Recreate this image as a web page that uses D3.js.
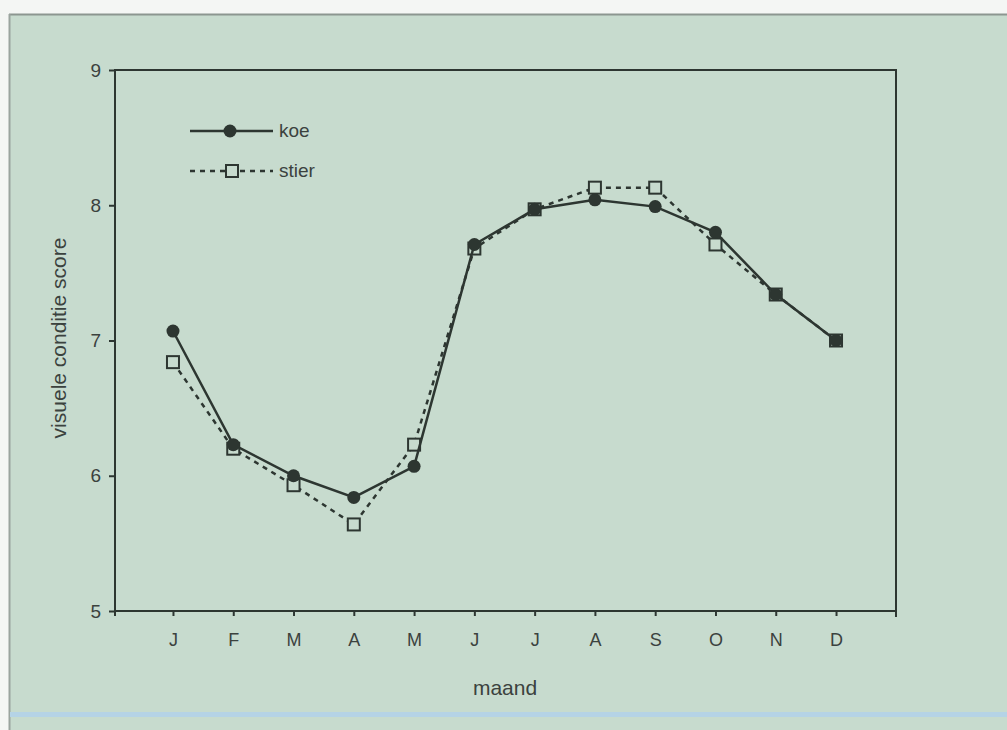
<!DOCTYPE html>
<html>
<head>
<meta charset="utf-8">
<script src="https://cdn.jsdelivr.net/npm/d3@7"></script>
<style>
  html, body { margin: 0; padding: 0; background: #ffffff; }
  svg { display: block; }
  text { font-family: "Liberation Sans", Arial, sans-serif; fill: #3b423e; }
</style>
</head>
<body>
<svg id="chart" width="1007" height="730"></svg>
<script>
// Monthly visual condition scores for cows (koe) and bulls (stier)
const months = ["J", "F", "M", "A", "M", "J", "J", "A", "S", "O", "N", "D"];
const koe   = [7.07, 6.23, 6.00, 5.84, 6.07, 7.71, 7.97, 8.04, 7.99, 7.80, 7.34, 7.00];
const stier = [6.84, 6.20, 5.93, 5.64, 6.23, 7.68, 7.97, 8.13, 8.13, 7.71, 7.34, 7.00];
const yTicks = [5, 6, 7, 8, 9];

const svg = d3.select("#chart");
const ink = "#2d3631";
const paper = "#c7dbce";

// page panel
svg.append("rect").attr("x", 0).attr("y", 0).attr("width", 1007).attr("height", 730).attr("fill", "#f4f6f4");
svg.append("rect").attr("x", 9).attr("y", 14).attr("width", 998).attr("height", 716)
  .attr("fill", paper);
svg.append("line").attr("x1", 9).attr("x2", 1007).attr("y1", 14.5).attr("y2", 14.5)
  .attr("stroke", "#8c9690").attr("stroke-width", 2);
svg.append("line").attr("x1", 9.5).attr("x2", 9.5).attr("y1", 14).attr("y2", 730)
  .attr("stroke", "#9aa49e").attr("stroke-width", 2);
svg.append("rect").attr("x", 10).attr("y", 712).attr("width", 997).attr("height", 5)
  .attr("fill", "#b5d3e6");

const plotL = 115, plotR = 896, plotT = 70, plotB = 611;

const x = d3.scaleLinear().domain([0, 13]).range([112.7, 896.3]);
const y = d3.scaleLinear().domain([5, 9]).range([plotB, plotT]);

// plot frame
svg.append("rect").attr("x", plotL).attr("y", plotT)
  .attr("width", plotR - plotL).attr("height", plotB - plotT)
  .attr("fill", "none").attr("stroke", ink).attr("stroke-width", 2);

// y axis
const yAxis = d3.axisLeft(y).tickValues(yTicks).tickSize(6).tickPadding(8).tickFormat(d3.format("d"));
const gy = svg.append("g").attr("transform", `translate(${plotL},0)`).call(yAxis);
gy.select(".domain").remove();
gy.selectAll(".tick line").attr("stroke", ink).attr("stroke-width", 2);
gy.selectAll(".tick text").attr("font-size", 19).style("fill", "#3b423e");

// x axis
const xAxis = d3.axisBottom(x).tickValues(d3.range(1, 13)).tickSize(5).tickPadding(17)
  .tickFormat(i => months[i - 1]);
const gx = svg.append("g").attr("transform", `translate(0,${plotB})`).call(xAxis);
gx.select(".domain").remove();
gx.selectAll(".tick line").attr("stroke", ink).attr("stroke-width", 2);
gx.selectAll(".tick text").attr("font-size", 18).style("fill", "#3b423e");

// corner ticks of the frame
svg.append("line").attr("x1", plotL).attr("x2", plotL).attr("y1", plotB).attr("y2", plotB + 5)
  .attr("stroke", ink).attr("stroke-width", 2);
svg.append("line").attr("x1", plotR).attr("x2", plotR).attr("y1", plotB).attr("y2", plotB + 6)
  .attr("stroke", ink).attr("stroke-width", 2);

// axis titles
svg.append("text").attr("x", 505).attr("y", 695).attr("text-anchor", "middle")
  .attr("font-size", 21).text("maand");
svg.append("text").attr("transform", "translate(66,338) rotate(-90)")
  .attr("text-anchor", "middle").attr("font-size", 21).text("visuele conditie score");

const line = d3.line().x((d, i) => x(i + 1)).y(d => y(d));

// stier: dashed line with open squares
svg.append("path").datum(stier).attr("d", line)
  .attr("fill", "none").attr("stroke", ink).attr("stroke-width", 2.5)
  .attr("stroke-dasharray", "5,5");
svg.selectAll(".sq").data(stier).enter().append("rect")
  .attr("x", (d, i) => x(i + 1) - 6).attr("y", d => y(d) - 6)
  .attr("width", 12).attr("height", 12)
  .attr("fill", paper).attr("stroke", ink).attr("stroke-width", 2);

// koe: solid line with filled circles
svg.append("path").datum(koe).attr("d", line)
  .attr("fill", "none").attr("stroke", ink).attr("stroke-width", 2.5);
svg.selectAll(".dot").data(koe).enter().append("circle")
  .attr("cx", (d, i) => x(i + 1)).attr("cy", d => y(d)).attr("r", 6.5)
  .attr("fill", ink);

// legend
const lg = svg.append("g");
lg.append("line").attr("x1", 190).attr("x2", 273).attr("y1", 131).attr("y2", 131)
  .attr("stroke", ink).attr("stroke-width", 2.5);
lg.append("circle").attr("cx", 230).attr("cy", 131).attr("r", 6.5).attr("fill", ink);
lg.append("text").attr("x", 279).attr("y", 137).attr("font-size", 19).text("koe");

lg.append("line").attr("x1", 190).attr("x2", 273).attr("y1", 171).attr("y2", 171)
  .attr("stroke", ink).attr("stroke-width", 2.5).attr("stroke-dasharray", "5,5");
lg.append("rect").attr("x", 226).attr("y", 165).attr("width", 12).attr("height", 12)
  .attr("fill", paper).attr("stroke", ink).attr("stroke-width", 2);
lg.append("text").attr("x", 279).attr("y", 177).attr("font-size", 19).text("stier");
</script>
</body>
</html>
